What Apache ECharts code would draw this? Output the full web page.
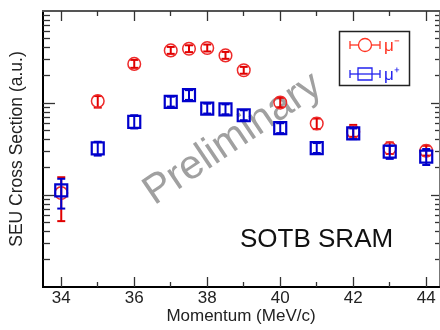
<!DOCTYPE html>
<html>
<head>
<meta charset="utf-8">
<script src="https://cdn.jsdelivr.net/npm/echarts@6/dist/echarts.min.js"></script>
<style>
  html, body { margin: 0; padding: 0; background: #fff; }
  #chart { width: 440px; height: 330px; }
</style>
</head>
<body>
<div id="chart"></div>
<script>
// momentum points (MeV/c)
const momentum = [34, 35, 36, 37, 37.5, 38, 38.5, 39, 40, 41, 42, 43, 44]

// mu- : value, lower and upper error
const muMinus = [10.5, 105, 266, 373, 389, 396, 329, 227, 101, 59.9, 48.6, 32.2, 30.3]
const muMinusLo = [5.2, 89.1, 241, 342, 357, 363, 302, 208, 89.8, 52.0, 42.9, 27.9, 26.8]
const muMinusHi = [15.6, 119, 294, 407, 424, 432, 359, 247, 114, 67.8, 57.8, 37.3, 34.3]

// mu+ : value, lower and upper error
const muPlus = [11.2, 32.2, 62.3, 103, 122, 86.9, 85.4, 73.6, 53.3, 32.4, 46.7, 29.6, 26.1]
const muPlusLo = [7.12, 26.8, 52.9, 91.3, 108, 76.8, 75.4, 65.0, 47.1, 28.6, 40.5, 24.7, 21.2]
const muPlusHi = [15.0, 37.9, 73.6, 117, 138, 98.4, 96.7, 83.3, 60.3, 36.7, 52.9, 34.3, 31.6]

// axis ticks
const xMajor = [34, 36, 38, 40, 42, 44]
const xMinor = [35, 37, 39, 41, 43]
const yMajor = [10, 100]
const yMinor = [2, 3, 4, 5, 6, 7, 8, 9, 20, 30, 40, 50, 60, 70, 80, 90, 200, 300, 400, 500, 600, 700, 800, 900]

const font = "'Liberation Sans', Arial, sans-serif"

function rows(v, lo, hi) {
  return momentum.map((m, i) => [m, v[i], lo[i], hi[i]])
}

function errRender(kind, barColor, markColor) {
  return function (params, api) {
    const x = api.value(0)
    const c = api.coord([x, api.value(1)])
    const lo = api.coord([x, api.value(2)])
    const hi = api.coord([x, api.value(3)])
    const cw = 4
    const st = { stroke: barColor, lineWidth: 2 }
    const mark = kind === 'circle'
      ? { type: 'circle', shape: { cx: c[0], cy: c[1], r: 6.3 }, style: { fill: 'transparent', stroke: markColor, lineWidth: 1.5 } }
      : { type: 'rect', shape: { x: c[0] - 6, y: c[1] - 6, width: 12, height: 12 }, style: { fill: 'transparent', stroke: markColor, lineWidth: 2.2 } }
    return {
      type: 'group',
      children: [
        { type: 'line', shape: { x1: c[0], y1: lo[1], x2: c[0], y2: hi[1] }, style: st },
        { type: 'line', shape: { x1: c[0] - cw, y1: lo[1], x2: c[0] + cw, y2: lo[1] }, style: st },
        { type: 'line', shape: { x1: c[0] - cw, y1: hi[1], x2: c[0] + cw, y2: hi[1] }, style: st },
        mark
      ]
    }
  }
}

function xAxisOf(pos, ticks, len, extra) {
  return Object.assign({
    type: 'value', position: pos, min: 33.5, max: 44.35,
    axisLine: { show: true, onZero: false, lineStyle: { color: pos === 'top' ? '#555' : '#000', width: 2 } },
    axisTick: { show: true, inside: true, length: len, customValues: ticks, lineStyle: { color: '#333', width: 1.3 } },
    axisLabel: { show: false },
    splitLine: { show: false }
  }, extra || {})
}

function yAxisOf(pos, ticks, len, extra) {
  return Object.assign({
    type: 'log', logBase: 10, position: pos, min: 1, max: 1000,
    axisLine: { show: true, lineStyle: { color: pos === 'right' ? '#777' : '#000', width: pos === 'right' ? 1 : 2 } },
    axisTick: { show: true, inside: true, length: len, customValues: ticks, lineStyle: { color: '#333', width: 1.3 } },
    axisLabel: { show: false },
    splitLine: { show: false }
  }, extra || {})
}

const chart = echarts.init(document.getElementById('chart'))
chart.setOption({
  animation: false,
  backgroundColor: '#fff',
  grid: { left: 43, right: 1, top: 11, bottom: 41 },
  xAxis: [
    xAxisOf('bottom', xMajor, 10, {
      axisLabel: { show: true, customValues: xMajor, fontSize: 17, color: '#222', margin: 3, fontFamily: font },
      name: 'Momentum (MeV/c)', nameLocation: 'middle', nameGap: 21, nameMoveOverlap: false,
      nameTextStyle: { fontSize: 17, color: '#222', fontFamily: font }
    }),
    xAxisOf('bottom', xMinor, 5),
    xAxisOf('top', xMajor, 10),
    xAxisOf('top', xMinor, 5)
  ],
  yAxis: [
    yAxisOf('left', yMajor, 12, {
      name: 'SEU Cross Section (a.u.)', nameLocation: 'middle', nameGap: 17, nameMoveOverlap: false,
      nameTextStyle: { fontSize: 17.5, color: '#222', fontFamily: font }
    }),
    yAxisOf('left', yMinor, 7),
    yAxisOf('right', yMajor, 8),
    yAxisOf('right', yMinor, 4)
  ],
  series: [
    {
      name: 'mu-', type: 'custom', xAxisIndex: 0, yAxisIndex: 0, clip: false,
      encode: { x: 0, y: [1, 2, 3] },
      renderItem: errRender('circle', '#e00000', '#ee2a2a'),
      data: rows(muMinus, muMinusLo, muMinusHi)
    },
    {
      name: 'mu+', type: 'custom', xAxisIndex: 0, yAxisIndex: 0, clip: false,
      encode: { x: 0, y: [1, 2, 3] },
      renderItem: errRender('rect', '#0000cc', '#0000cc'),
      data: rows(muPlus, muPlusLo, muPlusHi)
    }
  ],
  graphic: [
    {
      type: 'text', x: 233, y: 139, rotation: 34 * Math.PI / 180, z: 1,
      style: { text: 'Preliminary', fontSize: 41, fontFamily: font, fill: '#a0a0a0', align: 'center', verticalAlign: 'middle' }
    },
    {
      type: 'text', x: 240, y: 240,
      style: { text: 'SOTB SRAM', fontSize: 26, fontFamily: font, fill: '#111', align: 'left', verticalAlign: 'middle' }
    },
    // legend box
    {
      type: 'group', z: 10,
      children: [
        { type: 'rect', shape: { x: 339.5, y: 31.5, width: 70, height: 54 }, style: { fill: '#fff', stroke: '#222', lineWidth: 1.5 } },
        { type: 'line', shape: { x1: 350, y1: 45, x2: 380, y2: 45 }, style: { stroke: '#ff3322', lineWidth: 1.3 } },
        { type: 'line', shape: { x1: 350, y1: 41, x2: 350, y2: 49 }, style: { stroke: '#ff3322', lineWidth: 1.3 } },
        { type: 'line', shape: { x1: 380, y1: 41, x2: 380, y2: 49 }, style: { stroke: '#ff3322', lineWidth: 1.3 } },
        { type: 'circle', shape: { cx: 365, cy: 45, r: 6.5 }, style: { fill: '#fff', stroke: '#ff3322', lineWidth: 1.3 } },
        { type: 'text', x: 384, y: 46, style: { text: 'μ⁻', fontSize: 17, fontFamily: font, fill: '#ff3322', verticalAlign: 'middle' } },
        { type: 'line', shape: { x1: 350, y1: 74, x2: 380, y2: 74 }, style: { stroke: '#2222ee', lineWidth: 1.3 } },
        { type: 'line', shape: { x1: 350, y1: 70, x2: 350, y2: 78 }, style: { stroke: '#2222ee', lineWidth: 1.3 } },
        { type: 'line', shape: { x1: 380, y1: 70, x2: 380, y2: 78 }, style: { stroke: '#2222ee', lineWidth: 1.3 } },
        { type: 'rect', shape: { x: 358, y: 68, width: 14, height: 12 }, style: { fill: 'transparent', stroke: '#2222ee', lineWidth: 1.3 } },
        { type: 'text', x: 384, y: 75, style: { text: 'μ⁺', fontSize: 17, fontFamily: font, fill: '#2222ee', verticalAlign: 'middle' } }
      ]
    }
  ]
})
</script>
</body>
</html>
